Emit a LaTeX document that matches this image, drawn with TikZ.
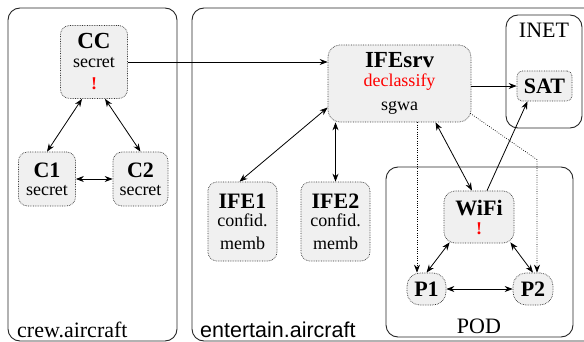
\documentclass[tikz,border=0pt]{standalone}
\usepackage{fontspec}
\setmainfont{Liberation Serif}
\newfontfamily\sansf{Liberation Sans}
\usetikzlibrary{arrows.meta}
\begin{document}
\begin{tikzpicture}[x=1pt,y=-1pt,
  nbox/.style={draw=black!80, line width=0.7pt, dash pattern=on 0.7pt off 1pt, fill=black!6, rounded corners=9pt, align=center, inner sep=0pt,
    font=\fontsize{18}{18}\selectfont},
  region/.style={draw=black!85, line width=0.9pt, rounded corners=12pt},
  lbl/.style={font=\fontsize{22}{22}\selectfont, inner sep=0pt},
  one/.style={-{Stealth[length=8pt,width=6pt]}, line width=0.8pt},
  two/.style={{Stealth[length=8pt,width=6pt]}-{Stealth[length=8pt,width=6pt]}, line width=0.8pt},
  dots/.style={-{Stealth[length=8pt,width=6pt]}, line width=0.7pt, dash pattern=on 0.7pt off 1.6pt}
]
\useasboundingbox (0,0) rectangle (584,342);
\clip (0,0) rectangle (584,342);
% regions
\draw[region] (8,8) rectangle (177,341);
\draw[region] (192,8) rectangle (596,341);
\draw[region] (506,15) rectangle (582,128);
\draw[region] (386,167) rectangle (573,337);
\node[lbl, anchor=base west] (crewlbl) at (17,337) {crew.aircraft};
\node[lbl, anchor=base west, font=\fontsize{21.5}{22}\selectfont\sansf] (entlbl) at (200,337) {entertain.aircraft};
\node[lbl, anchor=base] (inetlbl) at (544,38) {INET};
\node[lbl, anchor=base] (podlbl) at (479,333) {POD};
% nodes
\node[nbox, minimum width=67pt, minimum height=73pt] (CC) at (94,62)
  {{\fontsize{23}{23}\selectfont\bfseries CC}\\[1pt] secret\\[4pt] {\color{red}\bfseries !}};
\node[nbox, minimum width=57pt, minimum height=54pt] (C1) at (47,179)
  {{\fontsize{22}{22}\selectfont\bfseries C1}\\[0pt] secret};
\node[nbox, minimum width=55pt, minimum height=54pt] (C2) at (140.5,179)
  {{\fontsize{22}{22}\selectfont\bfseries C2}\\[0pt] secret};
\node[nbox, rounded corners=12pt, minimum width=143pt, minimum height=77pt] (IFEsrv) at (399.5,83.5)
  {{\fontsize{23}{23}\selectfont\bfseries IFEsrv}\\[1pt] {\color{red}declassify}\\[6pt] sgwa};
\node[nbox, minimum width=69pt, minimum height=79pt] (IFE1) at (242.5,221.5)
  {{\fontsize{22}{22}\selectfont\bfseries IFE1}\\[0pt] confid.\\[5pt] memb};
\node[nbox, minimum width=69pt, minimum height=79pt] (IFE2) at (335.5,221.5)
  {{\fontsize{22}{22}\selectfont\bfseries IFE2}\\[0pt] confid.\\[5pt] memb};
\node[nbox, rounded corners=5pt, minimum width=55pt, minimum height=30pt] (SAT) at (544.5,86)
  {\fontsize{22}{22}\selectfont\bfseries SAT};
\node[nbox, rounded corners=11pt, minimum width=70pt, minimum height=52pt] (WiFi) at (479,217)
  {{\fontsize{22}{22}\selectfont\bfseries WiFi}\\[1pt] {\color{red}\bfseries !}};
\node[nbox, rounded corners=13pt, minimum width=39pt, minimum height=32pt] (P1) at (426.5,289)
  {\fontsize{22}{22}\selectfont\bfseries P1};
\node[nbox, rounded corners=13pt, minimum width=40pt, minimum height=32pt] (P2) at (533,289)
  {\fontsize{22}{22}\selectfont\bfseries P2};
% edges
\draw[one] (CC.east) -- (CC.east -| IFEsrv.west);
\draw[two] ([xshift=-12pt]CC.south) -- (C1.north);
\draw[two] ([xshift=11pt]CC.south) -- (C2.north);
\draw[two] (C1.east) -- (C2.west);
\draw[two] ([yshift=-24pt]IFEsrv.west) -- ([xshift=-3pt]IFE1.north);
\draw[two] (IFE2.north |- IFEsrv.south) -- (IFE2.north);
\draw[one] (IFEsrv.east |- SAT.west) -- (SAT.west);
\draw[two] ([xshift=36pt]IFEsrv.south) -- ([xshift=-7pt]WiFi.north);
\draw[one] ([xshift=8pt]WiFi.north) -- ([xshift=-17pt]SAT.south);
\draw[dots] ([xshift=-9.5pt]P1.north |- IFEsrv.south) -- ([xshift=-9.5pt]P1.north);
\draw[dots] ([xshift=-1pt,yshift=9pt]IFEsrv.south east) -- ([xshift=4pt,yshift=113pt]P2.north) -- ([xshift=4pt]P2.north);
\draw[two] ([xshift=6pt,yshift=1pt]WiFi.south west) -- (P1.north);
\draw[two] ([xshift=-4pt,yshift=1pt]WiFi.south east) -- (P2.north);
\draw[two] (P1.east) -- (P2.west);
\end{tikzpicture}
\end{document}
